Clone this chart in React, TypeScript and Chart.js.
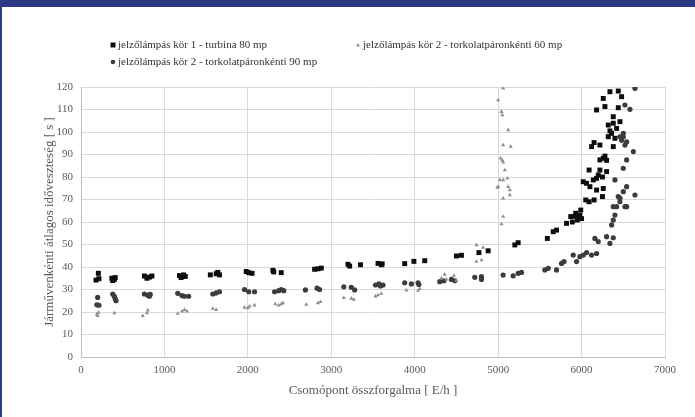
import React, { useEffect, useRef } from "react";
import { Chart, registerables } from "chart.js";

Chart.register(...registerables);

const seriesLabels = [
  "jelzőlámpás kör 1 - turbina 80 mp",
  "jelzőlámpás kör 2 - torkolatpáronkénti 60 mp",
  "jelzőlámpás kör 2 - torkolatpáronkénti 90 mp",
];

const xTitle = "Csomópont összforgalma [ E/h ]";
const yTitle = "Járművenkénti átlagos időveszteség [ s ]";

// Series 1: turbina 80 mp (black squares)
const s1x = [180, 208, 215, 370, 380, 400, 410, 760, 790, 820, 850, 1180, 1200, 1230, 1250, 1550, 1620, 1640, 1660, 1980, 2010, 2050, 2300, 2310, 2400, 2800, 2840, 2880, 3200, 3220, 3350, 3560, 3600, 3610, 3880, 3990, 4120, 4500, 4560, 4770, 4880, 5200, 5240, 5590, 5660, 5700, 5820, 5870, 5890, 5930, 5950, 5990, 5960, 5980, 6000, 5910, 6050, 6090, 6150, 6250, 6020, 6060, 6100, 6140, 6180, 6200, 6250, 6180, 6260, 6220, 6300, 6090, 6260, 6280, 6300, 6220, 6120, 6150, 6220, 6380, 6320, 6360, 6400, 6320, 6380, 6460, 6420, 6340, 6380, 6180, 6280, 6440, 6260, 6480, 6340, 6440];
const s1y = [34.2, 37.2, 34.8, 35, 34, 34.5, 35.3, 36, 35, 35.5, 36, 36.2, 35.3, 36.5, 35.8, 36.5, 37, 37.6, 36.5, 38, 37.5, 37.2, 38.5, 37.8, 37.5, 39, 39.2, 39.5, 41.2, 40.4, 41, 41.6, 41, 41.4, 41.5, 42.5, 42.8, 44.9, 45.2, 46.4, 47.2, 49.8, 50.8, 52.7, 55.7, 56.4, 59.4, 62.4, 60, 63.9, 60.9, 65.3, 62, 63, 61.5, 62.5, 69.8, 69, 69.8, 71.3, 77.9, 77.2, 75.7, 78.7, 79.4, 80.9, 80, 74.2, 74.9, 83.1, 82.4, 83.1, 88.3, 89.3, 87.4, 87.6, 93.5, 95.3, 94.2, 93.5, 97.9, 99.4, 97.2, 103.1, 103.9, 104.6, 101.6, 100.5, 106.8, 109.8, 111.3, 110.8, 114.9, 115.7, 117.9, 118.2];

// Series 2: torkolatpáronkénti 60 mp (grey triangles)
const s2x = [190, 200, 210, 400, 740, 790, 800, 1160, 1210, 1240, 1270, 1580, 1620, 1960, 2000, 2020, 2080, 2330, 2370, 2400, 2420, 2700, 2840, 2870, 3150, 3240, 3270, 3530, 3560, 3600, 3900, 4040, 4060, 4320, 4360, 4380, 4470, 4500, 4740, 4740, 4800, 4820, 4990, 5000, 5060, 5040, 5050, 5120, 5060, 5150, 5030, 5050, 5060, 5080, 5020, 5060, 5110, 5000, 5120, 5140, 5140, 5060, 5060, 5040];
const s2y = [19, 18.3, 19.8, 19.5, 18.3, 19.5, 20.8, 19.3, 20.3, 21, 20.3, 21.5, 21, 22, 21.8, 22.5, 23, 23.5, 23, 23.5, 24, 23.3, 24, 24.5, 26.3, 26, 25.5, 27, 27.5, 28.2, 29.7, 29.5, 30.3, 35, 36.7, 34.5, 36.2, 34, 49.8, 42.4, 43.1, 48.6, 75.3, 114.2, 119.4, 109, 107.5, 100.9, 94.2, 93.5, 88.3, 87.4, 86.5, 83.1, 78.7, 78.7, 79.4, 75.7, 75.7, 74.2, 72, 70.5, 62.4, 59.1];

// Series 3: torkolatpáronkénti 90 mp (dark grey circles)
const s3x = [200, 190, 215, 380, 400, 410, 420, 760, 800, 820, 830, 1160, 1210, 1240, 1290, 1580, 1620, 1660, 1960, 2010, 2080, 2320, 2370, 2400, 2430, 2690, 2830, 2860, 3150, 3240, 3280, 3530, 3570, 3590, 3620, 3880, 3960, 4040, 4050, 4300, 4350, 4440, 4480, 4720, 4800, 4800, 5060, 5180, 5240, 5280, 5560, 5600, 5700, 5760, 5790, 5900, 5940, 5980, 6020, 6060, 6120, 6180, 6160, 6200, 6300, 6340, 6380, 6360, 6380, 6400, 6420, 6460, 6540, 6440, 6500, 6540, 6640, 6380, 6520, 6460, 6500, 6400, 6540, 6620, 6460, 6500, 6480, 6540, 6500, 6520, 6580, 6640, 6520];
const s3y = [26.5, 23.2, 23, 28, 27, 26, 25, 28, 27.5, 27, 27.8, 28.3, 27.3, 27, 27, 28, 28.5, 29, 30, 29, 29, 29, 29.5, 30, 29.5, 29.8, 30.6, 30, 31.2, 31, 29.8, 32, 32.5, 31.6, 32, 33, 32.5, 33, 32.2, 33.5, 33.9, 34.5, 33.9, 35.4, 35.7, 34.5, 36.4, 36.1, 37.2, 37.6, 38.7, 39.4, 38.7, 41.6, 42.4, 45.3, 42.4, 44.6, 45.3, 46.4, 45.3, 46, 52.7, 51.3, 53.5, 50.5, 53, 58.7, 60.9, 63.1, 66.8, 69, 66.8, 71.3, 73.5, 75.7, 72, 66.8, 66.8, 70.6, 83.9, 78.7, 87.6, 91.3, 97.9, 97.9, 96.3, 95.6, 99.4, 112, 110.1, 119.4, 94.2];

const xTicks = [0, 1000, 2000, 3000, 4000, 5000, 6000, 7000];
const yTicks = [0, 10, 20, 30, 40, 50, 60, 70, 80, 90, 100, 110, 120];

const FONT = "'Liberation Serif', 'DejaVu Serif', serif";

const zip = (xs: number[], ys: number[]) => xs.map((x, i) => ({ x, y: ys[i] }));

const legendPlugin = {
  id: "customLegend",
  afterDraw(chart: any) {
    const ctx = chart.ctx;
    const items = [
      { x: 113, y: 45 },
      { x: 358, y: 45 },
      { x: 113, y: 62 },
    ];
    ctx.save();
    ctx.font = `11px ${FONT}`;
    ctx.textBaseline = "middle";
    ctx.textAlign = "left";
    chart.data.datasets.forEach((ds: any, i: number) => {
      const p = items[i];
      ctx.fillStyle = ds.backgroundColor;
      ctx.beginPath();
      if (ds.pointStyle === "rect") {
        ctx.rect(p.x - 2.5, p.y - 2.5, 5, 5);
      } else if (ds.pointStyle === "triangle") {
        ctx.moveTo(p.x, p.y - 2);
        ctx.lineTo(p.x + 2, p.y + 1.5);
        ctx.lineTo(p.x - 2, p.y + 1.5);
        ctx.closePath();
      } else {
        ctx.arc(p.x, p.y, 2.3, 0, Math.PI * 2);
      }
      ctx.fill();
      ctx.fillStyle = "#333333";
      ctx.fillText(ds.label, p.x + 5, p.y);
    });
    ctx.restore();
  },
};

export default function App() {
  const ref = useRef<HTMLCanvasElement>(null);
  useEffect(() => {
    if (!ref.current) return;
    const chart = new Chart(ref.current, {
      type: "scatter",
      data: {
        datasets: [
          {
            label: seriesLabels[0],
            data: zip(s1x, s1y),
            pointStyle: "rect",
            pointRadius: 3.5,
            backgroundColor: "#0d0d0d",
            borderColor: "#0d0d0d",
            borderWidth: 0,
          },
          {
            label: seriesLabels[1],
            data: zip(s2x, s2y),
            pointStyle: "triangle",
            pointRadius: 2.4,
            backgroundColor: "#8f8f8f",
            borderColor: "#8f8f8f",
            borderWidth: 0,
          },
          {
            label: seriesLabels[2],
            data: zip(s3x, s3y),
            pointStyle: "circle",
            pointRadius: 2.6,
            backgroundColor: "#3c3c3c",
            borderColor: "#3c3c3c",
            borderWidth: 0,
          },
        ] as any,
      },
      options: {
        responsive: false,
        animation: false,
        layout: { padding: { top: 87, right: 30, left: 0, bottom: 0 } },
        plugins: {
          legend: { display: false },
          tooltip: { enabled: false },
        },
        scales: {
          x: {
            type: "linear",
            min: 0,
            max: 7000,
            afterBuildTicks: (s: any) => {
              s.ticks = xTicks.map((v) => ({ value: v }));
            },
            afterFit: (s: any) => {
              s.height = 60;
            },
            grid: { color: "#d9d9d9", drawTicks: false },
            border: { color: "#bfbfbf" },
            ticks: {
              padding: 7,
              color: "#595959",
              font: { family: FONT, size: 11 },
              callback: (v: any) => String(v),
            },
            title: {
              display: true,
              text: xTitle,
              color: "#595959",
              font: { family: FONT, size: 13 },
              padding: { top: 4, bottom: 19 },
            },
          },
          y: {
            type: "linear",
            min: 0,
            max: 120,
            afterBuildTicks: (s: any) => {
              s.ticks = yTicks.map((v) => ({ value: v }));
            },
            afterFit: (s: any) => {
              s.width = 81;
            },
            grid: { color: "#d9d9d9", drawTicks: false },
            border: { color: "#bfbfbf" },
            ticks: {
              padding: 8,
              color: "#595959",
              font: { family: FONT, size: 11 },
              callback: (v: any) => String(v),
            },
            title: {
              display: true,
              text: yTitle,
              color: "#595959",
              font: { family: FONT, size: 13 },
              padding: { top: 42, bottom: 0 },
            },
          },
        },
      },
      plugins: [legendPlugin],
    });
    return () => chart.destroy();
  }, []);

  return (
    <div style={{ position: "absolute", left: 0, top: 0, width: 695, height: 417, background: "#ffffff" }}>
      <canvas ref={ref} width={695} height={417} style={{ display: "block" }} />
      <div style={{ position: "absolute", left: 0, top: 0, width: 695, height: 7, background: "#2c3a86" }} />
      <div style={{ position: "absolute", left: 0, top: 0, width: 2, height: 417, background: "#2c3a86" }} />
    </div>
  );
}
